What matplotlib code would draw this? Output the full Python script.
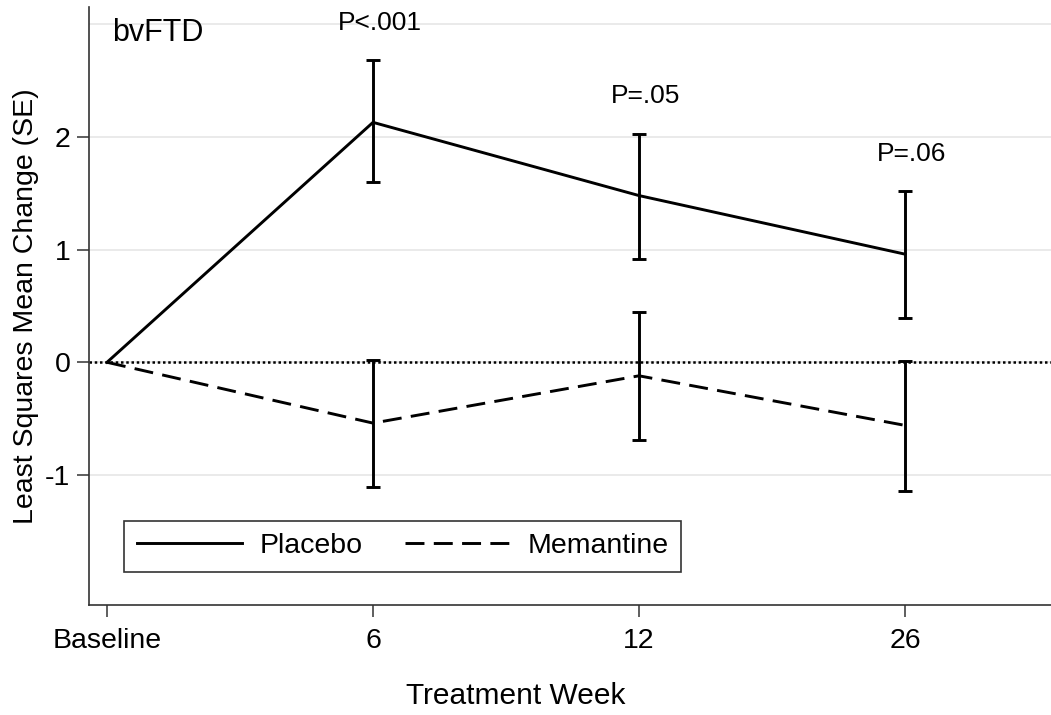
import numpy as np
import matplotlib.pyplot as plt

plt.rcParams['font.family'] = ['Liberation Sans', 'DejaVu Sans']
plt.rcParams['axes.unicode_minus'] = False

weeks = ['Baseline', '6', '12', '26']
placebo_mean = [0, 2.13, 1.48, 0.96]
placebo_lo = [np.nan, 1.60, 0.92, 0.39]
placebo_hi = [np.nan, 2.68, 2.03, 1.52]
memantine_mean = [0, -0.54, -0.12, -0.56]
memantine_lo = [np.nan, -1.11, -0.69, -1.14]
memantine_hi = [np.nan, 0.02, 0.45, 0.01]
p_labels = ['P<.001', 'P=.05', 'P=.06']
yticks = [-1, 0, 1, 2]

x = np.arange(len(weeks))
fig = plt.figure(figsize=(10.51, 7.15), dpi=100)
ax = fig.add_axes([0.085, 0.1538, 0.915, 0.8364])

# light grid
for g in yticks + [3]:
    ax.axhline(g, color='#e8e8e8', lw=1.3, zorder=0)
ax.axhline(0, color='black', lw=1.8, ls=(0, (1, 1.1)), zorder=1)

ax.plot(x, placebo_mean, color='black', lw=2.1, label='Placebo', zorder=3)
ax.plot(x, memantine_mean, color='black', lw=2.1, ls=(0, (6.5, 3.2)), label='Memantine', zorder=3)

for mean, lo, hi in [(placebo_mean, placebo_lo, placebo_hi), (memantine_mean, memantine_lo, memantine_hi)]:
    m = np.array(mean[1:])
    err = [m - np.array(lo[1:]), np.array(hi[1:]) - m]
    ax.errorbar(x[1:], m, yerr=err, fmt='none', ecolor='black', elinewidth=2.1,
                capsize=5.2, capthick=2.1, zorder=4)

for xi, lab, hi in zip(x[1:], p_labels, placebo_hi[1:]):
    ax.text(xi + 0.025, hi + 0.33, lab, ha='center', va='center', fontsize=19)

ax.text(0.0236, 0.9565, 'bvFTD', transform=ax.transAxes, ha='left', va='center', fontsize=22)

ax.set_xlim(-0.0665, 3.549)
ax.set_ylim(-2.155, 3.154)
ax.set_xticks(x)
ax.set_xticklabels(weeks)
ax.set_yticks(yticks)
ax.tick_params(axis='both', labelsize=20.5, length=8.6, width=1.1, color='#333333')
ax.tick_params(axis='x', pad=8)
ax.tick_params(axis='y', pad=5)

for s in ['top', 'right']:
    ax.spines[s].set_visible(False)
for s in ['left', 'bottom']:
    ax.spines[s].set_color('#333333')
    ax.spines[s].set_linewidth(1.2)

ax.set_xlabel('Treatment Week', fontsize=21.5)
ax.xaxis.set_label_coords(0.4437, -0.128)
ax.set_ylabel('Least Squares Mean Change (SE)', fontsize=20.5)
ax.yaxis.set_label_coords(-0.052, 0.5)

leg = ax.legend(loc='lower left', bbox_to_anchor=(0.036, 0.055), borderaxespad=0,
                ncol=2, fontsize=20.5, handlelength=3.7, handletextpad=0.6,
                columnspacing=1.5, borderpad=0.45, fancybox=False, framealpha=1)
leg.get_frame().set_edgecolor('#333333')
leg.get_frame().set_linewidth(1.2)

fig.savefig('out.png', dpi=100)
